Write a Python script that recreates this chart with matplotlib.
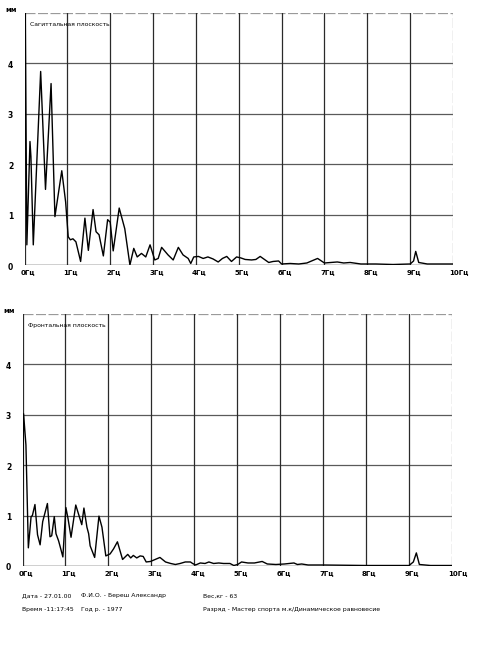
import matplotlib
matplotlib.use("Agg")
import matplotlib.pyplot as plt
import matplotlib.transforms as mtransforms

# Sagittal plane spectrum (Hz, mm)
sag_freq = [0.0, 0.015, 0.055, 0.128, 0.15, 0.205, 0.377, 0.49, 0.62, 0.71, 0.87, 0.96,
            1.02, 1.07, 1.13, 1.20, 1.31, 1.41, 1.49, 1.60, 1.67, 1.74, 1.84, 1.94, 2.00,
            2.07, 2.21, 2.34, 2.46, 2.55, 2.63, 2.73, 2.83, 2.93, 3.04, 3.12, 3.20, 3.35,
            3.47, 3.59, 3.70, 3.82, 3.88, 3.95, 4.06, 4.17, 4.28, 4.40, 4.52, 4.62, 4.72,
            4.83, 4.95, 5.05, 5.15, 5.30, 5.40, 5.50, 5.60, 5.70, 5.80, 5.93, 6.00, 6.20,
            6.40, 6.59, 6.70, 6.84, 7.00, 7.15, 7.30, 7.45, 7.60, 7.85, 8.20, 8.60, 9.00,
            9.08, 9.13, 9.20, 9.40, 10.0]
sag_amp = [1.5, 5.3, 0.4, 2.45, 2.15, 0.4, 3.84, 1.5, 3.6, 0.96, 1.87, 1.25,
           0.56, 0.5, 0.52, 0.46, 0.07, 0.93, 0.29, 1.1, 0.66, 0.6, 0.18, 0.9, 0.85,
           0.28, 1.13, 0.72, 0.0, 0.33, 0.16, 0.23, 0.16, 0.4, 0.1, 0.13, 0.35, 0.2,
           0.1, 0.35, 0.2, 0.13, 0.03, 0.16, 0.17, 0.13, 0.16, 0.12, 0.06, 0.13, 0.17,
           0.07, 0.16, 0.14, 0.11, 0.10, 0.11, 0.17, 0.11, 0.05, 0.07, 0.08, 0.02, 0.03,
           0.02, 0.04, 0.08, 0.13, 0.04, 0.05, 0.06, 0.04, 0.05, 0.02, 0.02, 0.01, 0.02,
           0.08, 0.27, 0.05, 0.02, 0.02]

# Frontal plane spectrum (Hz, mm)
fr_freq = [0.0, 0.025, 0.08, 0.136, 0.2, 0.23, 0.29, 0.35, 0.41, 0.47, 0.58, 0.64, 0.68,
           0.74, 0.78, 0.84, 0.875, 0.94, 1.01, 1.06, 1.13, 1.24, 1.38, 1.43, 1.50, 1.54,
           1.575, 1.68, 1.78, 1.85, 1.94, 2.04, 2.12, 2.21, 2.33, 2.45, 2.52, 2.58, 2.66,
           2.74, 2.81, 2.88, 2.98, 3.09, 3.20, 3.33, 3.45, 3.56, 3.67, 3.79, 3.91, 3.96,
           4.03, 4.14, 4.25, 4.34, 4.45, 4.57, 4.68, 4.83, 4.92, 5.01, 5.10, 5.25, 5.40,
           5.58, 5.70, 5.90, 6.10, 6.32, 6.40, 6.50, 6.65, 7.0, 8.0, 9.0, 9.10, 9.17,
           9.24, 9.5, 10.0]
fr_amp = [1.0, 3.02, 2.4, 0.36, 0.98, 1.0, 1.22, 0.62, 0.42, 0.88, 1.24, 0.58, 0.6,
          0.98, 0.64, 0.5, 0.39, 0.18, 1.16, 0.94, 0.57, 1.21, 0.82, 1.15, 0.77, 0.64,
          0.4, 0.17, 0.99, 0.77, 0.2, 0.24, 0.34, 0.48, 0.13, 0.23, 0.16, 0.21, 0.16,
          0.2, 0.19, 0.08, 0.09, 0.13, 0.17, 0.08, 0.05, 0.03, 0.05, 0.08, 0.08, 0.05,
          0.02, 0.06, 0.05, 0.08, 0.05, 0.06, 0.05, 0.05, 0.01, 0.03, 0.08, 0.06, 0.06,
          0.09, 0.04, 0.03, 0.04, 0.06, 0.03, 0.04, 0.02, 0.02, 0.01, 0.01, 0.08, 0.26,
          0.03, 0.01, 0.01]

x_ticks = list(range(0, 11))
x_labels = [f"{i}Гц" for i in x_ticks]
y_ticks = [0, 1, 2, 3, 4]
y_labels = ["0", "1", "2", "3", "4"]
titles = ["Сагиттальная плоскость", "Фронтальная плоскость"]
unit = "мм"

footer_col1 = ["Дата - 27.01.00", "Время -11:17:45"]
footer_col2 = ["Ф.И.О. - Береш Александр", "Год р. - 1977"]
footer_col3 = ["Вес,кг - 63", "Разряд - Мастер спорта м.к/Динамическое равновесие"]

plt.rcParams['font.family'] = ['DejaVu Sans']

W, H = 490, 660
fig = plt.figure(figsize=(W / 100, H / 100), dpi=100)
fig.patch.set_facecolor('white')

def px_rect(left, top, right, bottom):
    return [left / W, 1 - bottom / H, (right - left) / W, (bottom - top) / H]

axes_specs = [
    (px_rect(24.5, 13, 453, 265), sag_freq, sag_amp, titles[0]),
    (px_rect(22.5, 314, 452, 566), fr_freq, fr_amp, titles[1]),
]

for rect, fx, fy, title in axes_specs:
    ax = fig.add_axes(rect)
    ax.set_xlim(0, 10)
    ax.set_ylim(0, 5)
    for v in range(1, 5):
        ax.axhline(v, color='#5a5a5a', lw=0.9, zorder=1)
    ax.axhline(5, color='#9a9a9a', lw=0.9, ls=(0, (8, 2)), zorder=1)
    for h in range(1, 10):
        ax.axvline(h, color='#2a2a2a', lw=0.9, zorder=1)
    ax.axvline(10, color='#8a8a8a', lw=0.9, ls=(0, (8, 2)), zorder=1)
    ax.axvline(0, color='#2a2a2a', lw=0.9, zorder=1)
    ax.axhline(0, color='#111111', lw=1.0, zorder=1)
    for s in ax.spines.values():
        s.set_visible(False)
    ax.plot(fx, fy, color='black', lw=1.0, zorder=3, clip_on=True)

    ax.set_xticks([])
    ax.set_yticks([])
    # y labels
    ytr = mtransforms.offset_copy(ax.get_yaxis_transform(), fig=fig, x=-14, y=-2, units='dots')
    for v, lab in zip(y_ticks, y_labels):
        ax.text(0, v, lab, transform=ytr, ha='center', va='center',
                fontsize=5.5, fontweight='bold')
    ax.text(0, 5, unit, transform=mtransforms.offset_copy(ax.get_yaxis_transform(), fig=fig,
            x=-13, y=3, units='dots'), ha='center', va='center', fontsize=5, fontweight='bold')
    # x labels
    xtr = mtransforms.offset_copy(ax.get_xaxis_transform(), fig=fig, x=-4, y=-4, units='dots')
    for v, lab in zip(x_ticks, x_labels):
        ax.text(v, 0, lab, transform=xtr, ha='left', va='top',
                fontsize=5, fontweight='bold')
    ax.text(0.012, 0.965, title, transform=ax.transAxes, ha='left', va='top',
            fontsize=4.4)

# footer
for i in range(2):
    y = 1 - (596 + i * 13) / H
    fig.text(22 / W, y, footer_col1[i], ha='left', va='center', fontsize=4.4)
    fig.text(81 / W, y, footer_col2[i], ha='left', va='center', fontsize=4.4)
    fig.text(203 / W, y, footer_col3[i], ha='left', va='center', fontsize=4.4)

fig.savefig('out.png', dpi=100, facecolor='white')
